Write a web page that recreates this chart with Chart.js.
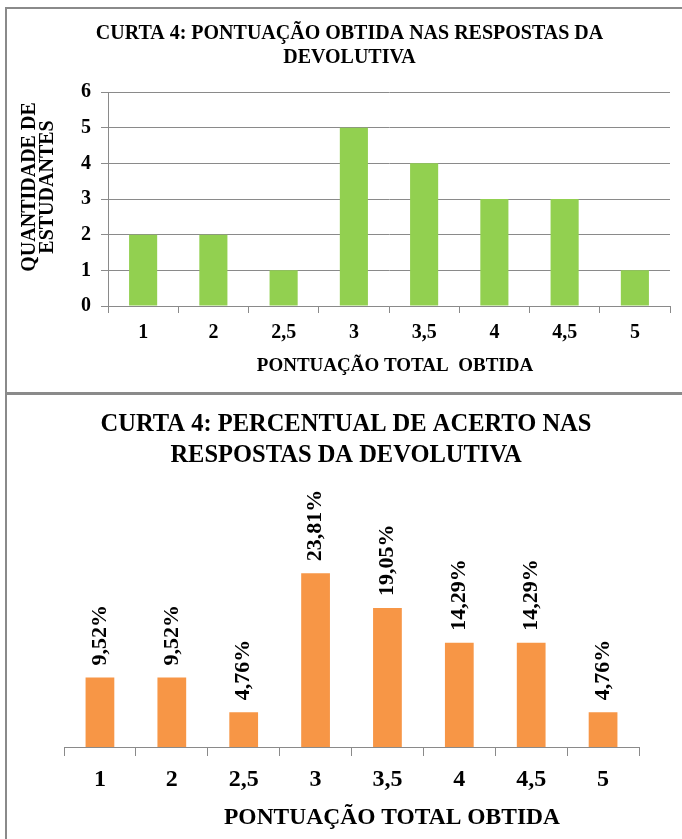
<!DOCTYPE html>
<html>
<head>
<meta charset="utf-8">
<script src="https://cdn.jsdelivr.net/npm/chart.js@4/dist/chart.umd.min.js"></script>
<style>
  html, body { margin: 0; padding: 0; background: #fff; }
  body { width: 682px; height: 839px; position: relative; overflow: hidden; }
  #box1 { position: absolute; left: 5px; top: 7px; width: 677px; height: 383px;
          border-left: 2px solid #8a8a8a; border-top: 2px solid #8a8a8a; }
  #box2 { position: absolute; left: 5px; top: 392px; width: 677px; height: 444px;
          border-left: 2px solid #8a8a8a; border-top: 3px solid #8a8a8a; }
  canvas { display: block; }
</style>
</head>
<body>
<div id="box1"><canvas id="countChart" width="675" height="383"></canvas></div>
<div id="box2"><canvas id="percentChart" width="675" height="444"></canvas></div>
<script>
// Score categories (total points obtained)
const categories = ['1', '2', '2,5', '3', '3,5', '4', '4,5', '5'];
// Number of students per score
const studentCounts = [2, 2, 1, 5, 4, 3, 3, 1];
// Share of students per score, in percent
const hitPercent = [9.52, 9.52, 4.76, 23.81, 19.05, 14.29, 14.29, 4.76];
// Count axis range
const countAxisMin = 0;
const countAxisMax = 6;
const countAxisStep = 1;

const SERIF = "'Liberation Serif', 'Times New Roman', serif";
const GRID = '#8a8a8a';

// Axis captions placed freely on the canvas (optionally rotated, multi-line)
const axisCaptions = {
  id: 'axisCaptions',
  afterDraw(chart, args, opts) {
    const ctx = chart.ctx;
    opts.items.forEach(item => {
      ctx.save();
      ctx.fillStyle = opts.color;
      ctx.font = `bold ${item.size}px ${SERIF}`;
      ctx.textAlign = 'center';
      ctx.textBaseline = 'middle';
      ctx.translate(item.x, item.y);
      ctx.rotate(item.rotation || 0);
      item.lines.forEach((line, i) => {
        ctx.fillText(line, 0, i * (item.lineGap || 0));
      });
      ctx.restore();
    });
  }
};

// Vertical value labels above each bar
const barValueLabels = {
  id: 'barValueLabels',
  afterDatasetsDraw(chart, args, opts) {
    const ctx = chart.ctx;
    const meta = chart.getDatasetMeta(0);
    const values = chart.data.datasets[0].data;
    ctx.save();
    ctx.fillStyle = opts.color;
    ctx.font = `bold ${opts.size}px ${SERIF}`;
    ctx.textAlign = 'left';
    ctx.textBaseline = 'middle';
    meta.data.forEach((bar, i) => {
      const text = values[i].toFixed(2).replace('.', ',') + '%';
      ctx.save();
      ctx.translate(bar.x, bar.y - opts.gap);
      ctx.rotate(-Math.PI / 2);
      ctx.fillText(text, 0, 0);
      ctx.restore();
    });
    ctx.restore();
  }
};

new Chart(document.getElementById('countChart'), {
  type: 'bar',
  data: {
    labels: categories,
    datasets: [{
      data: studentCounts,
      backgroundColor: '#92D050',
      barPercentage: 0.4,
      categoryPercentage: 1.0
    }]
  },
  plugins: [axisCaptions],
  options: {
    responsive: false,
    animation: false,
    devicePixelRatio: 1,
    layout: { padding: { left: 22, right: 12, top: 0, bottom: 0 } },
    plugins: {
      legend: { display: false },
      tooltip: { enabled: false },
      title: {
        display: true,
        text: ['CURTA 4: PONTUAÇÃO OBTIDA NAS RESPOSTAS DA', 'DEVOLUTIVA'],
        color: '#000',
        font: { family: SERIF, size: 20, weight: 'bold', lineHeight: 24 / 20 },
        padding: { top: 13, bottom: 22 }
      },
      axisCaptions: {
        color: '#000',
        items: [
          { lines: ['QUANTIDADE DE', 'ESTUDANTES'], x: 23, y: 178, size: 20, lineGap: 18, rotation: -Math.PI / 2 },
          { lines: ['PONTUAÇÃO TOTAL  OBTIDA'], x: 388, y: 357, size: 19 }
        ]
      }
    },
    scales: {
      x: {
        grid: { display: true, drawOnChartArea: false, drawTicks: true, tickLength: 7, color: GRID, offset: true },
        border: { color: GRID },
        ticks: { color: '#000', font: { family: SERIF, size: 20, weight: 'bold' }, padding: 8 },
        afterFit(scale) { scale.height = 86; }
      },
      y: {
        min: countAxisMin,
        max: countAxisMax,
        ticks: { stepSize: countAxisStep, color: '#000', font: { family: SERIF, size: 20, weight: 'bold' }, padding: 10 },
        grid: { color: GRID, tickLength: 7 },
        border: { color: GRID },
        afterFit(scale) { scale.width = 79; }
      }
    }
  }
});

new Chart(document.getElementById('percentChart'), {
  type: 'bar',
  data: {
    labels: categories,
    datasets: [{
      data: hitPercent,
      backgroundColor: '#F79646',
      barPercentage: 0.4,
      categoryPercentage: 1.0
    }]
  },
  plugins: [barValueLabels, axisCaptions],
  options: {
    responsive: false,
    animation: false,
    devicePixelRatio: 1,
    layout: { padding: { left: 46, right: 43, top: 0, bottom: 0 } },
    plugins: {
      legend: { display: false },
      tooltip: { enabled: false },
      title: {
        display: true,
        text: ['CURTA 4: PERCENTUAL DE ACERTO NAS', 'RESPOSTAS DA DEVOLUTIVA'],
        color: '#000',
        font: { family: SERIF, size: 24.5, weight: 'bold', lineHeight: 31 / 24.5 },
        padding: { top: 14.5, bottom: 56.5 }
      },
      barValueLabels: { gap: 12, size: 22, color: '#000' },
      axisCaptions: {
        color: '#000',
        items: [
          { lines: ['PONTUAÇÃO TOTAL OBTIDA'], x: 385, y: 423, size: 23.5 }
        ]
      }
    },
    scales: {
      x: {
        grid: { display: true, drawOnChartArea: false, drawTicks: true, tickLength: 9, color: GRID, offset: true },
        border: { color: GRID },
        ticks: { color: '#000', font: { family: SERIF, size: 24, weight: 'bold' }, padding: 9.6 },
        afterFit(scale) { scale.height = 92; }
      },
      y: {
        display: true,
        min: 0,
        max: 30,
        ticks: { display: false },
        grid: { display: false, drawTicks: false },
        border: { display: false },
        afterFit(scale) { scale.width = 11; }
      }
    }
  }
});
</script>
</body>
</html>
